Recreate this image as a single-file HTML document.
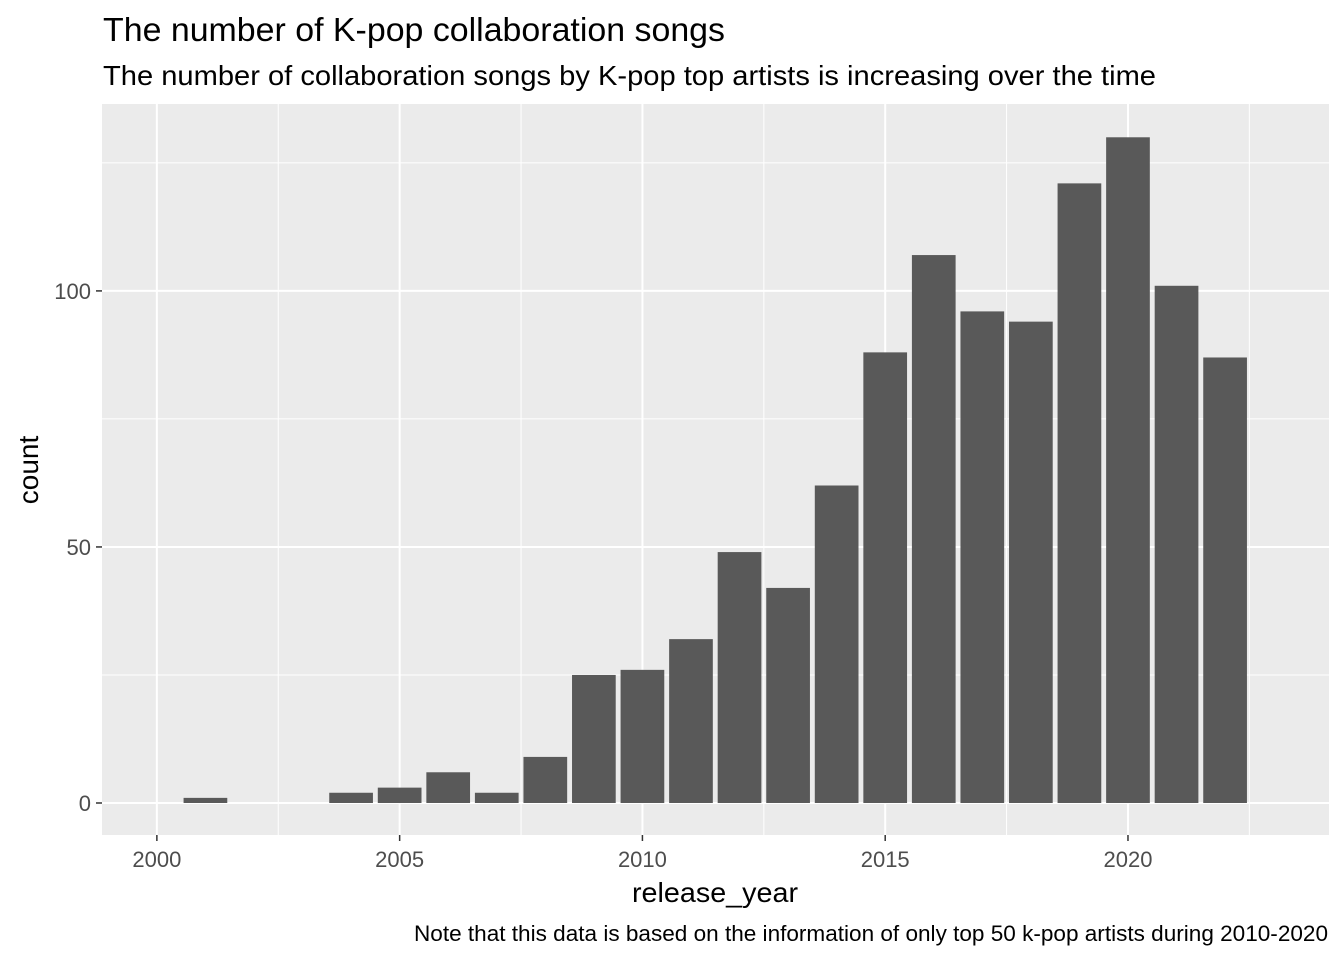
<!DOCTYPE html>
<html><head><meta charset="utf-8"><style>
body{margin:0;background:#fff;font-family:"Liberation Sans",Arial,sans-serif;}
svg{display:block}
</style></head><body>
<svg id="c" width="1344" height="960">
<text x="103" y="41" font-size="33" textLength="622" lengthAdjust="spacingAndGlyphs" fill="#000">The number of K-pop collaboration songs</text>
<text x="103" y="85" font-size="28" textLength="1053" lengthAdjust="spacingAndGlyphs" fill="#000">The number of collaboration songs by K-pop top artists is increasing over the time</text>
<rect x="102" y="104" width="1227" height="731" fill="#ebebeb"/>
<g id="grid"></g><g id="bars"></g><g id="axes"></g>
<text x="632" y="902" font-size="28" textLength="166" lengthAdjust="spacingAndGlyphs" fill="#000">release_year</text>
<text transform="translate(38,470) rotate(-90)" font-size="28" text-anchor="middle" fill="#000">count</text>
<text x="414" y="941" font-size="22.5" textLength="914" lengthAdjust="spacingAndGlyphs" fill="#000">Note that this data is based on the information of only top 50 k-pop artists during 2010-2020</text>
</svg>
<script>
const years=[2001,2004,2005,2006,2007,2008,2009,2010,2011,2012,2013,2014,2015,2016,2017,2018,2019,2020,2021,2022];
const counts=[1,2,3,6,2,9,25,26,32,49,42,62,88,107,96,94,121,130,101,87];
const xTicks=[2000,2005,2010,2015,2020];
const yTicks=[0,50,100];
const NS="http://www.w3.org/2000/svg";
const X0=102,X1=1329,Y0=835,Y1=104,xmin=1998.87,xmax=2024.14,ymin=-6.25,ymax=136.5;
const xs=v=>X0+(v-xmin)/(xmax-xmin)*(X1-X0);
const ys=v=>Y0-(v-ymin)/(ymax-ymin)*(Y0-Y1);
function mk(t,a,p){const e=document.createElementNS(NS,t);for(const k in a)e.setAttribute(k,a[k]);p.appendChild(e);return e;}
const g=document.getElementById('grid'),b=document.getElementById('bars'),ax=document.getElementById('axes');
for(let i=0;i<xTicks.length;i++){const v=xTicks[i]+2.5;if(v<xmax){const l=mk('line',{x1:xs(v),x2:xs(v),y1:Y1,y2:Y0,stroke:'#fff','stroke-width':1},g);}}
for(let i=0;i<yTicks.length;i++){const v=yTicks[i]+25;if(v<ymax){const l=mk('line',{x1:X0,x2:X1,y1:ys(v),y2:ys(v),stroke:'#fff','stroke-width':1},g);}}
xTicks.forEach(v=>{const l=mk('line',{x1:xs(v),x2:xs(v),y1:Y1,y2:Y0,stroke:'#fff','stroke-width':2},g);
const t=mk('line',{x1:xs(v),x2:xs(v),y1:Y0,y2:Y0+6,stroke:'#333','stroke-width':1.5},ax);
const tx=mk('text',{x:xs(v),y:Y0+32,'font-size':22,'text-anchor':'middle',fill:'#4d4d4d'},ax);tx.textContent=v;});
yTicks.forEach(v=>{const l=mk('line',{x1:X0,x2:X1,y1:ys(v),y2:ys(v),stroke:'#fff','stroke-width':2},g);
const t=mk('line',{x1:X0-6,x2:X0,y1:ys(v),y2:ys(v),stroke:'#333','stroke-width':1.5},ax);
const tx=mk('text',{x:X0-11,y:ys(v)+8,'font-size':22,'text-anchor':'end',fill:'#4d4d4d'},ax);tx.textContent=v;});
const bw=(xs(1)-xs(0))*0.9;
years.forEach((yr,i)=>{const r=mk('rect',{x:xs(yr)-bw/2,y:ys(counts[i]),width:bw,height:ys(0)-ys(counts[i]),fill:'#595959'},b);});
</script>
</body></html>
